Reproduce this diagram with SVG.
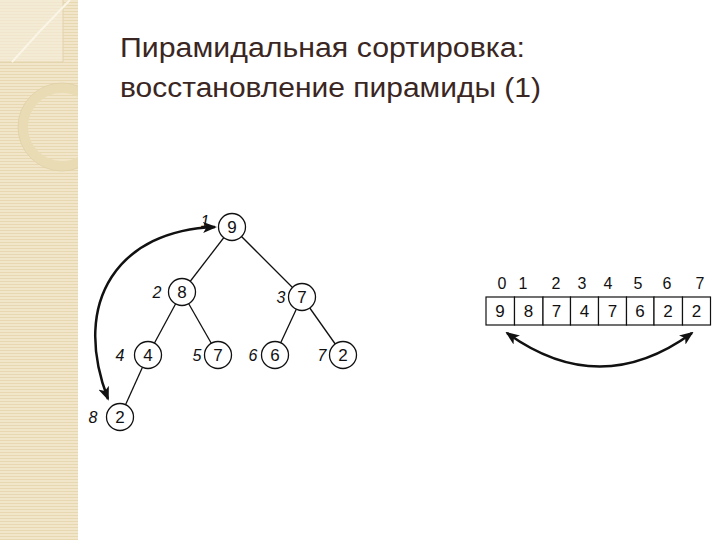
<svg xmlns="http://www.w3.org/2000/svg" width="720" height="540" viewBox="0 0 720 540">
<defs>
<pattern id="stripes" width="6" height="3" patternUnits="userSpaceOnUse">
<rect width="6" height="3" fill="#f1e6c9"/>
<rect y="2" width="6" height="1" fill="#e7d8b2"/>
</pattern>
<clipPath id="band"><rect x="0" y="0" width="78" height="540"/></clipPath>
<marker id="ah" viewBox="0 0 14 11" refX="12" refY="5.5" markerWidth="14" markerHeight="11" markerUnits="userSpaceOnUse" orient="auto-start-reverse">
<path d="M0,0 L14,5.5 L0,11 L3.5,5.5 z" fill="#111"/>
</marker>
<style>
.title{font-family:"Liberation Sans","Noto Sans",sans-serif;font-size:27px;fill:#3a2622}
.node circle{fill:#fff;stroke:#111;stroke-width:1.3}
.num{font-family:"Liberation Sans",Arial,sans-serif;font-size:17px;fill:#111;text-anchor:middle;dominant-baseline:central}
.idx{font-family:"Liberation Sans",Arial,sans-serif;font-size:16px;font-style:italic;fill:#111;text-anchor:middle;dominant-baseline:central}
.col{font-family:"Liberation Sans",Arial,sans-serif;font-size:16px;fill:#111;text-anchor:middle;dominant-baseline:central}
.edge{stroke:#111;stroke-width:1.3;fill:none}
.arc{stroke:#111;stroke-width:2.5;fill:none}
.cell{fill:#fff;stroke:#111;stroke-width:1.2}
</style>
</defs>
<rect width="720" height="540" fill="#fff"/>
<g id="band-decor">
<rect x="0" y="0" width="78" height="540" fill="url(#stripes)"/>
<g clip-path="url(#band)">
<rect x="0" y="0" width="63" height="62" fill="#f5edd8" opacity="0.7"/>
<path d="M0,62 L63,62 L63,0" fill="none" stroke="#e2d2ab" stroke-width="1"/>
<path d="M70,0 Q40,30 12,62" fill="none" stroke="#faf5e6" stroke-width="2"/>
<circle cx="62" cy="127" r="39" fill="none" stroke="#e9dcb5" stroke-width="10"/>
<circle cx="62" cy="127" r="44" fill="none" stroke="#e0cfa4" stroke-width="0.8"/>
</g>
</g>
<g id="title">
<text class="title" x="120" y="57" textLength="405" lengthAdjust="spacingAndGlyphs">Пирамидальная сортировка:</text>
<text class="title" x="120" y="97" textLength="421" lengthAdjust="spacingAndGlyphs">восстановление пирамиды (1)</text>
</g>
<g id="connectors">
<line class="edge" x1="232" y1="227" x2="182" y2="292"/>
<line class="edge" x1="232" y1="227" x2="302" y2="297"/>
<line class="edge" x1="182" y1="292" x2="148" y2="355"/>
<line class="edge" x1="182" y1="292" x2="218" y2="355"/>
<line class="edge" x1="302" y1="297" x2="275" y2="355"/>
<line class="edge" x1="302" y1="297" x2="343" y2="355"/>
<line class="edge" x1="148" y1="355" x2="120" y2="417"/>
<path class="arc" d="M215,227 C120,230 70,300 108,399" marker-start="url(#ah)" marker-end="url(#ah)"/>
<path class="arc" d="M507,333 Q600,400 692,333" marker-start="url(#ah)" marker-end="url(#ah)"/>
</g>
<g id="n1" class="node"><circle cx="232" cy="227" r="13.5"/><text class="num" x="232" y="227">9</text><text class="idx" x="205" y="221">1</text></g>
<g id="n2" class="node"><circle cx="182" cy="292" r="13.5"/><text class="num" x="182" y="292">8</text><text class="idx" x="157" y="292">2</text></g>
<g id="n3" class="node"><circle cx="302" cy="297" r="13.5"/><text class="num" x="302" y="297">7</text><text class="idx" x="281" y="297">3</text></g>
<g id="n4" class="node"><circle cx="148" cy="355" r="13.5"/><text class="num" x="148" y="355">4</text><text class="idx" x="120" y="355">4</text></g>
<g id="n5" class="node"><circle cx="218" cy="355" r="13.5"/><text class="num" x="218" y="355">7</text><text class="idx" x="197" y="355">5</text></g>
<g id="n6" class="node"><circle cx="275" cy="355" r="13.5"/><text class="num" x="275" y="355">6</text><text class="idx" x="253" y="355">6</text></g>
<g id="n7" class="node"><circle cx="343" cy="355" r="13.5"/><text class="num" x="343" y="355">2</text><text class="idx" x="322" y="355">7</text></g>
<g id="n8" class="node"><circle cx="120" cy="417" r="13.5"/><text class="num" x="120" y="417">2</text><text class="idx" x="93" y="417">8</text></g>
<g id="array">
<rect class="cell" x="486" y="297" width="28.5" height="28"/>
<rect class="cell" x="514.5" y="297" width="28.5" height="28"/>
<rect class="cell" x="543" y="297" width="27.5" height="28"/>
<rect class="cell" x="570.5" y="297" width="28" height="28"/>
<rect class="cell" x="598.5" y="297" width="28" height="28"/>
<rect class="cell" x="626.5" y="297" width="27.5" height="28"/>
<rect class="cell" x="654" y="297" width="28.5" height="28"/>
<rect class="cell" x="682.5" y="297" width="28" height="28"/>
<text class="num" x="500" y="311">9</text>
<text class="num" x="528.5" y="311">8</text>
<text class="num" x="556.5" y="311">7</text>
<text class="num" x="584.5" y="311">4</text>
<text class="num" x="612.5" y="311">7</text>
<text class="num" x="640" y="311">6</text>
<text class="num" x="668" y="311">2</text>
<text class="num" x="696.5" y="311">2</text>
<text class="col" x="502" y="283">0</text>
<text class="col" x="523" y="283">1</text>
<text class="col" x="556" y="283">2</text>
<text class="col" x="582" y="283">3</text>
<text class="col" x="608" y="283">4</text>
<text class="col" x="638" y="283">5</text>
<text class="col" x="667" y="283">6</text>
<text class="col" x="700" y="283">7</text>
</g>
</svg>
